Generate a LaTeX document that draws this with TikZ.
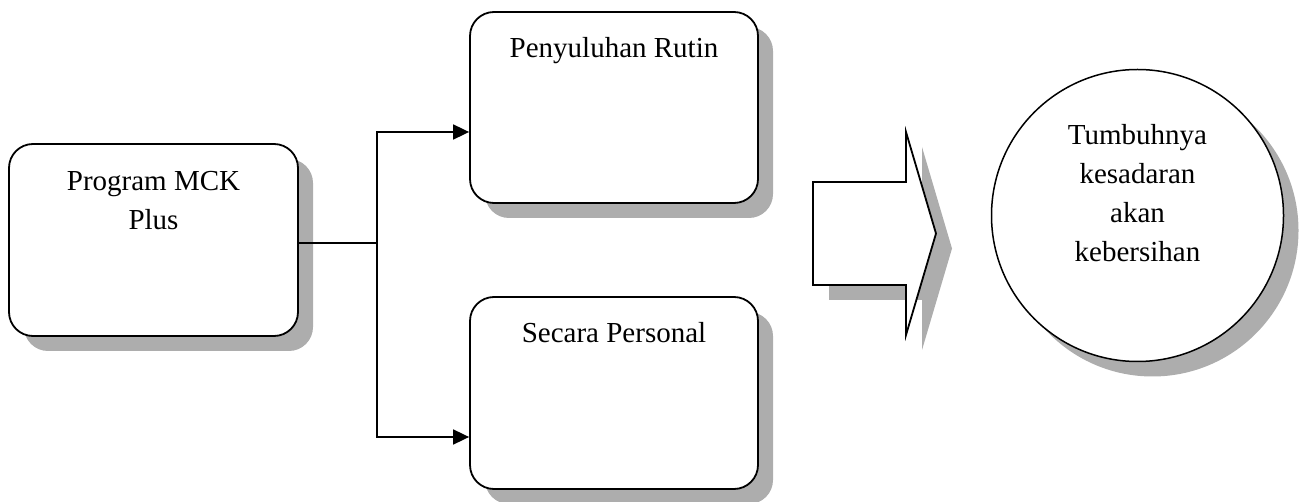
\documentclass[tikz,border=0pt]{standalone}
\usepackage{fontspec}
\setmainfont{Liberation Serif}
\usetikzlibrary{shadows,arrows.meta,calc}
\begin{document}
\begin{tikzpicture}[x=1pt,y=-1pt,
  shadefill/.style={fill=black!32, draw=none},
  boxshadow/.style={drop shadow={shadow xshift=15pt, shadow yshift=-15pt, fill=black!32, opacity=1}},
  roundbox/.style={draw, line width=1.8pt, rounded corners=24pt, fill=white, boxshadow, inner sep=0pt},
  lbl/.style={font=\fontsize{29}{39}\selectfont, align=center, inner sep=0pt, anchor=base},
  conn/.style={line width=1.8pt},
  arr/.style={conn, -{Triangle[length=16pt,width=15pt]}},
]
\useasboundingbox (0,0) rectangle (1301,502);

% boxes
\node[roundbox, minimum width=289pt, minimum height=192pt] (prog) at (153.5,240) {};
\node[roundbox, minimum width=288pt, minimum height=191pt] (rut) at (614,107.5) {};
\node[roundbox, minimum width=288pt, minimum height=192pt] (per) at (614,393) {};

% labels, placed by the baseline of their last line
\node[lbl] (progt) at ($(prog.north)+(0,86)$) {Program MCK\\Plus};
\node[lbl] (rutt) at ($(rut.north)+(0,46)$) {Penyuluhan Rutin};
\node[lbl] (pert) at ($(per.north)+(0,46)$) {Secara Personal};

% branching connector
\coordinate (j) at ($(prog.east)+(78,3)$);
\draw[conn] ($(prog.east)+(0,3)$) -- (j);
\draw[arr] (j) |- ($(rut.west)+(0,24.5)$);
\draw[arr] (j) |- ($(per.west)+(0,44)$);

% big block arrow with its shadow
\fill[shadefill, shift={(16,15)}] (813,182) -- (906,182) -- (906,132) -- (936,233.5)
  -- (906,335) -- (906,285) -- (813,285) -- cycle;
\draw[line width=1.8pt, fill=white] (813,182) -- (906,182) -- (906,132) -- (936,233.5)
  -- (906,335) -- (906,285) -- (813,285) -- cycle;

% result circle
\node[draw, circle, minimum size=292pt, line width=1.5pt, fill=white, inner sep=0pt, boxshadow] (goal) at (1137.5,215.5) {};
\node[lbl] (goalt) at ($(goal.center)+(0,46.5)$) {Tumbuhnya\\kesadaran\\akan\\kebersihan};
\end{tikzpicture}
\end{document}
